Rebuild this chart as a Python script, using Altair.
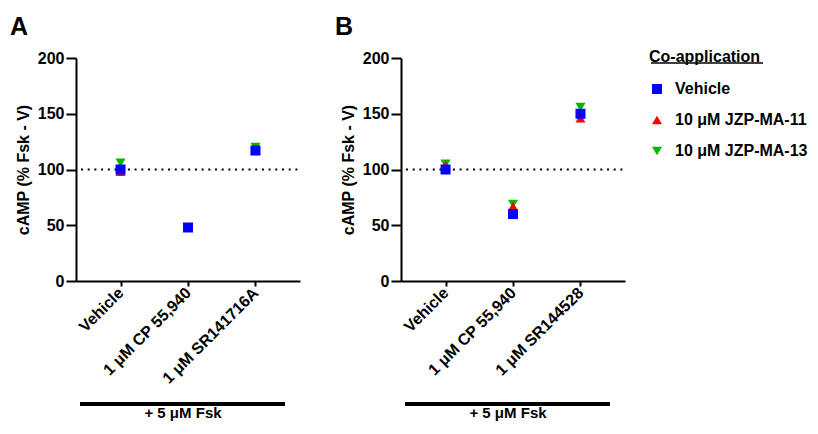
import altair as alt
import pandas as pd

# ---------------- data ----------------
groups = ["Vehicle", "10 μM JZP-MA-11", "10 μM JZP-MA-13"]
shapes = ["square", "triangle-up", "triangle-down"]
colors = ["#0000FF", "#FF0000", "#00B800"]

cats_A = ["Vehicle", "1 μM CP 55,940", "1 μM SR141716A"]
vals_A_vehicle = [100, 48, 117]
vals_A_jzp11 = [98, 48, 117]
vals_A_jzp13 = [106, 48, 120]

cats_B = ["Vehicle", "1 μM CP 55,940", "1 μM SR144528"]
vals_B_vehicle = [100, 60, 150]
vals_B_jzp11 = [104, 67, 146]
vals_B_jzp13 = [105, 69, 156]

y_ticks = [0, 50, 100, 150, 200]
baseline_value = [100]
panel_letters = ["A", "B"]
bracket_label = "+ 5 μM Fsk"


def make_df(cats, veh, j11, j13):
    rows = []
    # draw order: green, red, then blue on top
    for g, vals in [(groups[2], j13), (groups[1], j11), (groups[0], veh)]:
        for c, v in zip(cats, vals):
            rows.append({"cat": c, "group": g, "value": v})
    return pd.DataFrame(rows)


df_A = make_df(cats_A, vals_A_vehicle, vals_A_jzp11, vals_A_jzp13)
df_B = make_df(cats_B, vals_B_vehicle, vals_B_jzp11, vals_B_jzp13)

W, H = 224, 223
FONT = "Liberation Sans"


def panel(df, cats, letter, with_underline=False):
    x = alt.X("cat:N", sort=cats,
              scale=alt.Scale(type="point", domain=cats, padding=0.66),
              axis=alt.Axis(title=None, labelAngle=-45, labelAlign="right",
                            labelBaseline="middle", labelPadding=4))
    y = alt.Y("value:Q", scale=alt.Scale(domain=[0, 200]),
              axis=alt.Axis(title="cAMP (% Fsk - V)", values=y_ticks,
                            titlePadding=6, labelPadding=2, tickSize=10))
    leg = alt.Legend(title="Co-application", orient="none", legendX=573, legendY=-9)
    pts = alt.Chart(df).mark_point(filled=True, opacity=1, size=100, strokeWidth=0).encode(
        x=x, y=y,
        color=alt.Color("group:N", scale=alt.Scale(domain=groups, range=colors), legend=leg),
        shape=alt.Shape("group:N", scale=alt.Scale(domain=groups, range=shapes), legend=leg),
    )
    dotted = alt.Chart(pd.DataFrame({"v": baseline_value})).mark_rule(
        color="black", strokeWidth=2, strokeDash=[2, 4.7]).encode(
        y=alt.Y("v:Q"), x=alt.value(5), x2=alt.value(W))
    letter_t = alt.Chart(pd.DataFrame({"t": [letter]})).mark_text(
        font=FONT, fontSize=25, fontWeight="bold", align="left", baseline="alphabetic",
        color="black").encode(text="t:N", x=alt.value(-66), y=alt.value(-23))
    brk = alt.Chart(pd.DataFrame({"t": [bracket_label]})).mark_rule(
        color="black", strokeWidth=4).encode(
        x=alt.value(4), x2=alt.value(209), y=alt.value(346))
    brk_t = alt.Chart(pd.DataFrame({"t": [bracket_label]})).mark_text(
        font=FONT, fontSize=15, fontWeight="bold", align="center", baseline="alphabetic",
        color="black").encode(text="t:N", x=alt.value(107), y=alt.value(360))
    layers = [dotted, pts, letter_t, brk, brk_t]
    if with_underline:
        ul = alt.Chart(pd.DataFrame({"t": ["u"]})).mark_rule(
            color="black", strokeWidth=1.5).encode(
            x=alt.value(250), x2=alt.value(362), y=alt.value(5))
        layers.append(ul)
    return alt.layer(*layers).properties(width=W, height=H)


chart = alt.hconcat(
    panel(df_A, cats_A, "A"),
    panel(df_B, cats_B, "B", with_underline=True),
    spacing=34,
).resolve_scale(color="shared", shape="shared").properties(
    padding={"left": 2, "top": 7, "right": 0, "bottom": 0}
).configure_view(stroke=None).configure_axis(
    domainColor="black", domainWidth=2, tickColor="black", tickWidth=2,
    labelFont=FONT, labelFontSize=16, labelFontWeight="bold", labelColor="black",
    titleFont=FONT, titleFontSize=16, titleFontWeight="bold", titleColor="black",
    grid=False,
).configure_legend(
    titleFont=FONT, titleFontSize=16, titleFontWeight="bold", titleColor="black",
    labelFont=FONT, labelFontSize=16, labelFontWeight="bold", labelColor="black",
    symbolSize=100, symbolStrokeWidth=0, rowPadding=15, titlePadding=16,
    labelOffset=10, padding=0,
)

chart.save("out.html", embed_options={"renderer": "svg", "actions": False})
